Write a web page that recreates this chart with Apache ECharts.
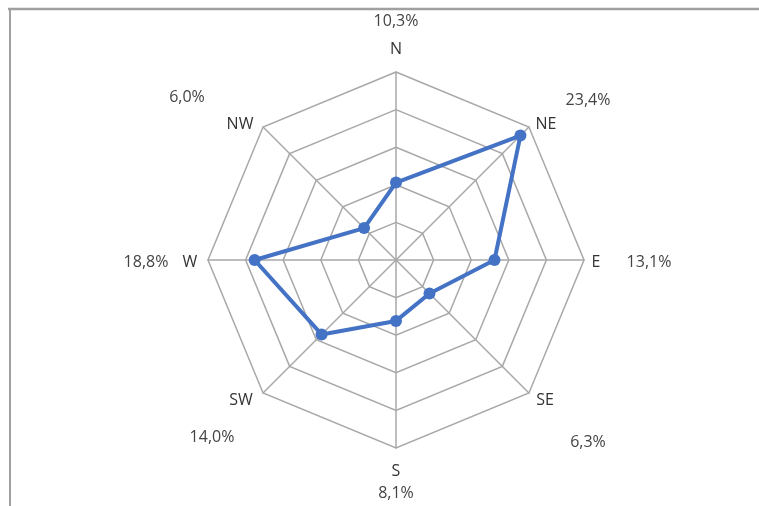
<!DOCTYPE html>
<html>
<head>
<meta charset="utf-8">
<script src="https://cdn.jsdelivr.net/npm/echarts@6/dist/echarts.min.js"></script>
<style>
  html, body { margin: 0; padding: 0; background: #ffffff; }
  #chart { width: 759px; height: 506px; }
</style>
</head>
<body>
<div id="chart"></div>
<script>
// Wind direction frequencies, listed clockwise from north
const directions = ['N', 'NE', 'E', 'SE', 'S', 'SW', 'W', 'NW'];
const frequencies = [10.3, 23.4, 13.1, 6.3, 8.1, 14.0, 18.8, 6.0];
const axisMax = 25;

// Pixel positions for the direction names and the percentage captions
const nameAt = [[396, 49], [546, 124], [596, 262], [545, 400], [396, 471], [241, 400], [190, 262], [240, 124]];
const pctAt = [[396, 21], [588, 100], [649, 262], [588, 442], [396, 493], [212, 437], [146, 262], [187, 97]];

const center = [396, 260];
const radius = 188;

// ECharts places radar indicators counter-clockwise, so walk the compass backwards
const order = [0, 7, 6, 5, 4, 3, 2, 1];
const indicators = order.map(i => ({ name: directions[i], min: 0, max: axisMax }));
const seriesValues = order.map(i => frequencies[i]);

const fmt = v => v.toFixed(1).replace('.', ',') + '%';
const font = '"Open Sans", "DejaVu Sans", sans-serif';

const labels = [];
directions.forEach((d, i) => {
  labels.push({
    type: 'text', x: nameAt[i][0], y: nameAt[i][1],
    style: { text: d, font: '16px ' + font, fill: '#333333', align: 'center', verticalAlign: 'middle' }
  });
  labels.push({
    type: 'text', x: pctAt[i][0], y: pctAt[i][1],
    style: { text: fmt(frequencies[i]), font: '16px ' + font, fill: '#444444', align: 'center', verticalAlign: 'middle' }
  });
});

const chart = echarts.init(document.getElementById('chart'), null, { renderer: 'canvas' });
chart.setOption({
  backgroundColor: '#ffffff',
  animation: false,
  radar: {
    center: center,
    radius: radius,
    startAngle: 90,
    splitNumber: 5,
    shape: 'polygon',
    indicator: indicators,
    axisName: { show: false },
    splitArea: { show: false },
    splitLine: { lineStyle: { color: '#a8a8a8', width: 1.5 } },
    axisLine: { lineStyle: { color: '#a8a8a8', width: 1.5 } },
    axisTick: { show: false },
    axisLabel: { show: false }
  },
  series: [{
    type: 'radar',
    symbol: 'circle',
    symbolSize: 12,
    lineStyle: { color: '#4472c4', width: 4 },
    itemStyle: { color: '#4472c4' },
    data: [{ value: seriesValues }]
  }],
  graphic: [
    { type: 'line', shape: { x1: 8, y1: 9, x2: 759, y2: 9 }, style: { stroke: '#a0a0a0', lineWidth: 2.5 } },
    { type: 'line', shape: { x1: 10, y1: 9, x2: 10, y2: 506 }, style: { stroke: '#a0a0a0', lineWidth: 2 } }
  ].concat(labels)
});
</script>
</body>
</html>
